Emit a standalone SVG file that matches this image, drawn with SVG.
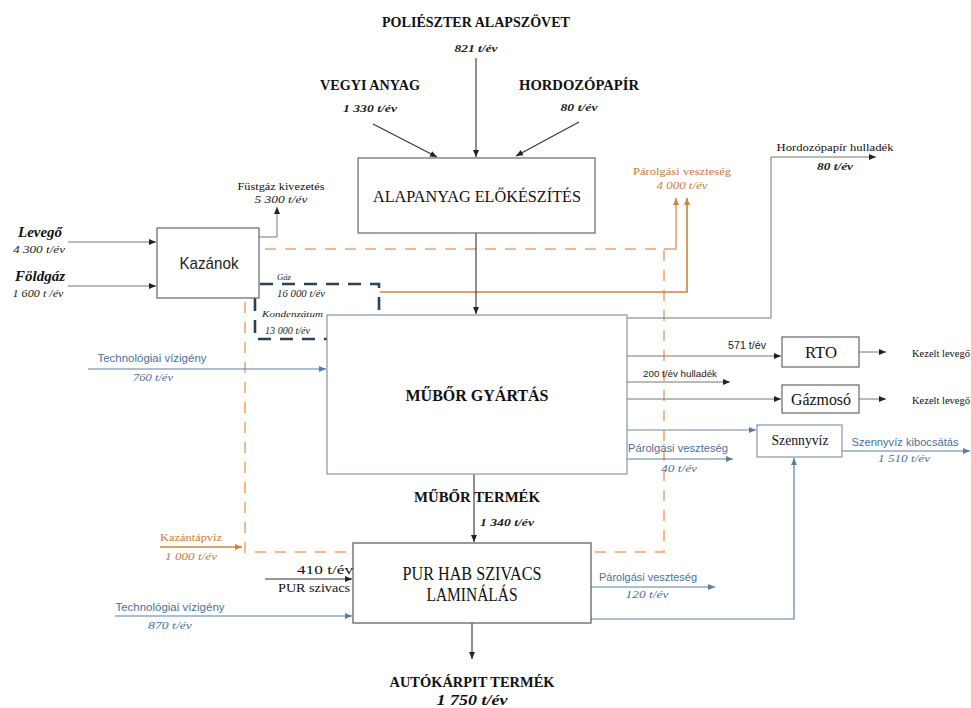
<svg xmlns="http://www.w3.org/2000/svg" width="971" height="708" viewBox="0 0 971 708">
<defs>
<style>
.box{fill:#fff;stroke:#666;stroke-width:1.2}
.boxb{fill:#fff;stroke:#8594a8;stroke-width:1.2}
.ln{fill:none;stroke:#333;stroke-width:1.1}
.lg{fill:none;stroke:#777;stroke-width:1}
.lb{fill:none;stroke:#5b7ea6;stroke-width:1.2}
.lo{fill:none;stroke:#d3813f;stroke-width:1.6}
.dash-o{fill:none;stroke:#f5b88a;stroke-width:2;stroke-dasharray:11,9}
.dash-n{fill:none;stroke:#2e4057;stroke-width:2.6;stroke-dasharray:13,9}
.tt{font-family:"Liberation Serif","DejaVu Serif",serif;font-weight:bold;fill:#111}
.ti{font-family:"Liberation Serif","DejaVu Serif",serif;font-style:italic;font-weight:bold;fill:#222}
.ts{font-family:"Liberation Sans","DejaVu Sans",sans-serif;fill:#222}
.tb{font-family:"Liberation Sans","DejaVu Sans",sans-serif;fill:#4a6f9c}
.tbi{font-family:"Liberation Serif","DejaVu Serif",serif;font-style:italic;fill:#4a6f9c}
.to{font-family:"Liberation Serif","DejaVu Serif",serif;fill:#cc7a3c}
.toi{font-family:"Liberation Serif","DejaVu Serif",serif;font-style:italic;fill:#cc7a3c}
.tn{font-family:"Liberation Serif","DejaVu Serif",serif;fill:#111}
</style>
<marker id="ak" markerWidth="8" markerHeight="8" refX="7" refY="4" orient="auto" markerUnits="userSpaceOnUse"><path d="M0,1 L7,4 L0,7 Z" fill="#222"/></marker>
<marker id="ab" markerWidth="8" markerHeight="8" refX="7" refY="4" orient="auto" markerUnits="userSpaceOnUse"><path d="M0,1 L7,4 L0,7 Z" fill="#5b7ea6"/></marker>
<marker id="ao" markerWidth="8" markerHeight="8" refX="7" refY="4" orient="auto" markerUnits="userSpaceOnUse"><path d="M0,1 L7,4 L0,7 Z" fill="#d3813f"/></marker>
</defs>
<rect width="971" height="708" fill="#fff"/>

<g id="connectors">
<rect class="dash-o" x="245" y="249" width="419" height="303"/>
<path class="lo" d="M664,249 H676 V198" marker-end="url(#ao)" style="stroke:#e8a070"/>
<path class="lo" d="M380,292 H687 V198" marker-end="url(#ao)"/>
<path class="lo" d="M160,547 H242" marker-end="url(#ao)"/>
<path class="ln" d="M476,58 V157" marker-end="url(#ak)"/>
<path class="ln" d="M373,124 L437,157" marker-end="url(#ak)"/>
<path class="ln" d="M579,122 L516,156" marker-end="url(#ak)"/>
<path class="ln" d="M476,233 V314" marker-end="url(#ak)"/>
<path class="lg" d="M68,242 H156" marker-end="url(#ak)"/>
<path class="lg" d="M68,286 H156" marker-end="url(#ak)"/>
<path class="lg" d="M259,237 H277 V207" marker-end="url(#ak)"/>
<path class="dash-n" d="M260,284 H379 V315"/>
<path class="dash-n" d="M255,298 V339 H327"/>
<path class="lg" d="M627,318 H771 V157 H876" marker-end="url(#ak)"/>
<path class="lb" d="M88,369 H326" marker-end="url(#ab)"/>
<path class="lb" d="M115,616 H352" marker-end="url(#ab)"/>
<path class="lg" d="M627,356 H781" marker-end="url(#ak)"/>
<path class="lg" d="M627,382 H730" marker-end="url(#ak)"/>
<path class="lg" d="M627,399 H781" marker-end="url(#ak)"/>
<path class="lb" d="M627,430 H756" marker-end="url(#ab)" style="stroke:#6f87a3"/>
<path class="lb" d="M627,459 H733" marker-end="url(#ab)"/>
<path class="lg" d="M859,352 H886" marker-end="url(#ak)"/>
<path class="lg" d="M859,399 H886" marker-end="url(#ak)"/>
<path class="lb" d="M842,451 H970" marker-end="url(#ab)"/>
<path class="lb" d="M591,619 H794 V458" marker-end="url(#ab)"/>
<path class="lb" d="M591,587 H715" marker-end="url(#ab)"/>
<path class="ln" d="M474,474 V542" marker-end="url(#ak)"/>
<path class="ln" d="M265,579 H352" marker-end="url(#ak)"/>
<path class="ln" d="M472,623 V659" marker-end="url(#ak)"/>
</g>

<g id="alapanyag">
<rect class="box" x="358" y="158" width="237" height="75"/>
<text class="tn" x="477" y="202" font-size="17" text-anchor="middle" textLength="208" lengthAdjust="spacingAndGlyphs">ALAPANYAG ELŐKÉSZÍTÉS</text>
</g>
<g id="kazanok">
<rect class="box" x="157" y="228" width="102" height="70"/>
<text class="ts" x="209" y="269" font-size="17" text-anchor="middle" textLength="59" lengthAdjust="spacingAndGlyphs">Kazánok</text>
</g>
<g id="mubor">
<rect class="boxb" x="327" y="315" width="300" height="159"/>
<text class="tt" x="477" y="401" font-size="17" text-anchor="middle" textLength="143" lengthAdjust="spacingAndGlyphs">MŰBŐR GYÁRTÁS</text>
</g>
<g id="pur">
<rect class="box" x="353" y="543" width="238" height="80" style="stroke:#555"/>
<text class="tn" x="472" y="580" font-size="18" text-anchor="middle" textLength="139" lengthAdjust="spacingAndGlyphs">PUR HAB SZIVACS</text>
<text class="tn" x="472" y="601" font-size="18" text-anchor="middle" textLength="91" lengthAdjust="spacingAndGlyphs">LAMINÁLÁS</text>
</g>
<g id="rto">
<rect class="box" x="782" y="337" width="77" height="30"/>
<text class="tn" x="821" y="358" font-size="16" text-anchor="middle" textLength="32" lengthAdjust="spacingAndGlyphs">RTO</text>
</g>
<g id="gazmoso">
<rect class="box" x="782" y="385" width="77" height="28"/>
<text class="tn" x="821" y="405" font-size="16" text-anchor="middle" textLength="60" lengthAdjust="spacingAndGlyphs">Gázmosó</text>
</g>
<g id="szennyviz">
<rect class="boxb" x="757" y="425" width="85" height="32"/>
<text class="tn" x="800" y="445" font-size="14" text-anchor="middle" textLength="57" lengthAdjust="spacingAndGlyphs">Szennyvíz</text>
</g>

<g id="labels">
<text class="tt" x="476" y="27" font-size="15" text-anchor="middle" textLength="188" lengthAdjust="spacingAndGlyphs">POLIÉSZTER ALAPSZÖVET</text>
<text class="ti" x="476" y="52" font-size="11" text-anchor="middle" textLength="43" lengthAdjust="spacingAndGlyphs">821 t/év</text>
<text class="tt" x="370" y="90" font-size="15" text-anchor="middle" textLength="100" lengthAdjust="spacingAndGlyphs">VEGYI ANYAG</text>
<text class="ti" x="370" y="112" font-size="11" text-anchor="middle" textLength="54" lengthAdjust="spacingAndGlyphs">1 330 t/év</text>
<text class="tt" x="579" y="90" font-size="15" text-anchor="middle" textLength="120" lengthAdjust="spacingAndGlyphs">HORDOZÓPAPÍR</text>
<text class="ti" x="579" y="111" font-size="11" text-anchor="middle" textLength="37" lengthAdjust="spacingAndGlyphs">80 t/év</text>

<text class="tn" x="281" y="190" font-size="11" text-anchor="middle" textLength="87" lengthAdjust="spacingAndGlyphs">Füstgáz kivezetés</text>
<text class="ti" x="281" y="203" font-size="11" text-anchor="middle" textLength="53" lengthAdjust="spacingAndGlyphs" style="font-weight:normal">5 300 t/év</text>
<text class="tt" x="40" y="237" font-size="15" text-anchor="middle" font-style="italic" textLength="44" lengthAdjust="spacingAndGlyphs">Levegő</text>
<text class="ti" x="39" y="253" font-size="10" text-anchor="middle" textLength="52" lengthAdjust="spacingAndGlyphs" style="font-weight:normal">4 300 t/év</text>
<text class="tt" x="40" y="281" font-size="15" text-anchor="middle" font-style="italic" textLength="50" lengthAdjust="spacingAndGlyphs">Földgáz</text>
<text class="ti" x="38" y="297" font-size="10" text-anchor="middle" textLength="51" lengthAdjust="spacingAndGlyphs" style="font-weight:normal">1 600 t /év</text>
<text class="ti" x="277" y="280" font-size="9" textLength="14" lengthAdjust="spacingAndGlyphs" style="font-weight:normal">Gáz</text>
<text class="ti" x="277" y="297" font-size="10" textLength="48" lengthAdjust="spacingAndGlyphs" style="font-weight:normal">16 000 t/év</text>
<text class="ti" x="262" y="317" font-size="9" textLength="61" lengthAdjust="spacingAndGlyphs" style="font-weight:normal">Kondenzátum</text>
<text class="ti" x="265" y="334" font-size="9.5" textLength="45" lengthAdjust="spacingAndGlyphs" style="font-weight:normal">13 000 t/év</text>

<text class="to" x="682" y="175" font-size="11" text-anchor="middle" textLength="98" lengthAdjust="spacingAndGlyphs">Párolgási veszteség</text>
<text class="toi" x="682" y="189" font-size="11" text-anchor="middle" textLength="51" lengthAdjust="spacingAndGlyphs">4 000 t/év</text>
<text class="tn" x="835" y="151" font-size="11" text-anchor="middle" textLength="117" lengthAdjust="spacingAndGlyphs">Hordozópapír hulladék</text>
<text class="ti" x="835" y="170" font-size="10" text-anchor="middle" textLength="36" lengthAdjust="spacingAndGlyphs">80 t/év</text>

<text class="tb" x="152" y="362" font-size="11" text-anchor="middle" textLength="109" lengthAdjust="spacingAndGlyphs">Technológiai vízigény</text>
<text class="tbi" x="153" y="381" font-size="11" text-anchor="middle" textLength="40" lengthAdjust="spacingAndGlyphs">760 t/év</text>

<text class="ts" x="747" y="349" font-size="10" text-anchor="middle" textLength="38" lengthAdjust="spacingAndGlyphs">571 t/év</text>
<text class="ts" x="680" y="377" font-size="9.5" text-anchor="middle" textLength="74" lengthAdjust="spacingAndGlyphs">200 t/év hulladék</text>
<text class="tn" x="912" y="357" font-size="11" textLength="58" lengthAdjust="spacingAndGlyphs">Kezelt levegő</text>
<text class="tn" x="912" y="404" font-size="11" textLength="58" lengthAdjust="spacingAndGlyphs">Kezelt levegő</text>
<text class="tb" x="678" y="452" font-size="11" text-anchor="middle" textLength="100" lengthAdjust="spacingAndGlyphs">Párolgási veszteség</text>
<text class="tbi" x="679" y="472" font-size="10.5" text-anchor="middle" textLength="36" lengthAdjust="spacingAndGlyphs">40 t/év</text>
<text class="tb" x="905" y="446" font-size="10.5" text-anchor="middle" textLength="107" lengthAdjust="spacingAndGlyphs">Szennyvíz kibocsátás</text>
<text class="tbi" x="904" y="462" font-size="10.5" text-anchor="middle" textLength="52" lengthAdjust="spacingAndGlyphs">1 510 t/év</text>

<text class="tt" x="477" y="502" font-size="14" text-anchor="middle" textLength="126" lengthAdjust="spacingAndGlyphs">MŰBŐR TERMÉK</text>
<text class="ti" x="507" y="526" font-size="11" text-anchor="middle" textLength="54" lengthAdjust="spacingAndGlyphs">1 340 t/év</text>

<text class="to" x="191" y="541" font-size="11" text-anchor="middle" textLength="62" lengthAdjust="spacingAndGlyphs">Kazántápvíz</text>
<text class="toi" x="191" y="560" font-size="11" text-anchor="middle" textLength="52" lengthAdjust="spacingAndGlyphs">1 000 t/év</text>
<text class="tn" x="353" y="574" font-size="12.5" text-anchor="end" textLength="56" lengthAdjust="spacingAndGlyphs">410 t/év</text>
<text class="tn" x="350" y="592" font-size="12.5" text-anchor="end" textLength="72" lengthAdjust="spacingAndGlyphs">PUR szivacs</text>
<text class="tb" x="170" y="611" font-size="11" text-anchor="middle" textLength="109" lengthAdjust="spacingAndGlyphs">Technológiai vízigény</text>
<text class="tbi" x="170" y="629" font-size="11" text-anchor="middle" textLength="44" lengthAdjust="spacingAndGlyphs">870 t/év</text>
<text class="tb" x="648" y="581" font-size="11" text-anchor="middle" textLength="98" lengthAdjust="spacingAndGlyphs">Párolgási veszteség</text>
<text class="tbi" x="647" y="598" font-size="10.5" text-anchor="middle" textLength="43" lengthAdjust="spacingAndGlyphs">120 t/év</text>

<text class="tt" x="472" y="687" font-size="15" text-anchor="middle" textLength="165" lengthAdjust="spacingAndGlyphs">AUTÓKÁRPIT TERMÉK</text>
<text class="tt" x="472" y="705" font-size="15" text-anchor="middle" font-style="italic" textLength="71" lengthAdjust="spacingAndGlyphs">1 750 t/év</text>
</g>
</svg>
